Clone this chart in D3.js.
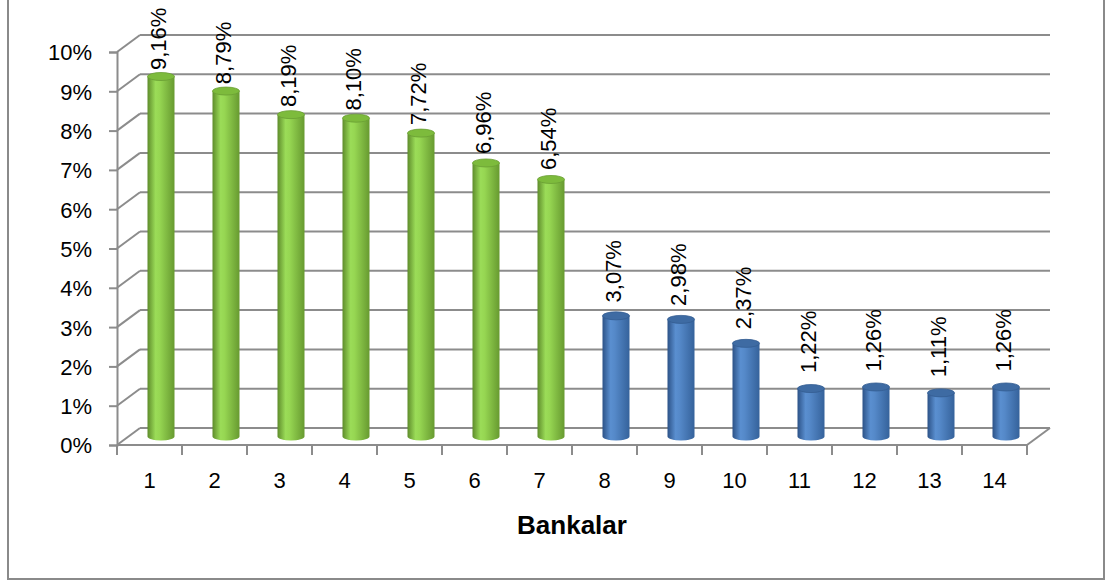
<!DOCTYPE html>
<html>
<head>
<meta charset="utf-8">
<script src="https://cdn.jsdelivr.net/npm/d3@7"></script>
<style>
  html, body { margin: 0; padding: 0; background: #ffffff; }
  svg { display: block; font-family: "Liberation Sans", Arial, sans-serif; }
</style>
</head>
<body>
<svg id="chart" width="1105" height="584"></svg>
<script>
// Bank shares (%) — banks 1..14
const banks = ["1","2","3","4","5","6","7","8","9","10","11","12","13","14"];
const shares = [9.16, 8.79, 8.19, 8.10, 7.72, 6.96, 6.54, 3.07, 2.98, 2.37, 1.22, 1.26, 1.11, 1.26];
const shareLabels = ["9,16%","8,79%","8,19%","8,10%","7,72%","6,96%","6,54%","3,07%","2,98%","2,37%","1,22%","1,26%","1,11%","1,26%"];
const groups = ["big","big","big","big","big","big","big","small","small","small","small","small","small","small"];
const yTicks = [0,1,2,3,4,5,6,7,8,9,10];
const yTickLabels = ["0%","1%","2%","3%","4%","5%","6%","7%","8%","9%","10%"];
const axisTitle = "Bankalar";

const svg = d3.select("#chart");

// frame
svg.append("rect")
  .attr("x", 8).attr("y", -4).attr("width", 1096).attr("height", 583)
  .attr("fill", "none").attr("stroke", "#8a8a8a").attr("stroke-width", 2);

// 3D box geometry: front plane and depth offset
const front = { left: 117, right: 1027, bottom: 445, top: 52 };
const depth = { dx: 23, dy: -17 };

const x = d3.scaleBand().domain(banks).range([front.left, front.right]).paddingInner(0).paddingOuter(0);
const y = d3.scaleLinear().domain([0, 10]).range([front.bottom, front.top]);
const yLabel = d3.scaleLinear().domain([0, 10]).range([419.6, 38]);

const gridColor = "#8c8c8c";
const g = svg.append("g");

// back wall gridlines
g.selectAll("line.grid").data(yTicks).join("line")
  .attr("class", "grid")
  .attr("x1", front.left + depth.dx).attr("x2", front.right + depth.dx)
  .attr("y1", d => y(d) + depth.dy).attr("y2", d => y(d) + depth.dy)
  .attr("stroke", gridColor).attr("stroke-width", 2);

// side wall diagonals
g.selectAll("line.diag").data(yTicks).join("line")
  .attr("class", "diag")
  .attr("x1", front.left).attr("x2", front.left + depth.dx)
  .attr("y1", d => y(d)).attr("y2", d => y(d) + depth.dy)
  .attr("stroke", gridColor).attr("stroke-width", 2);

// floor right diagonal
g.append("line")
  .attr("x1", front.right).attr("y1", y(0))
  .attr("x2", front.right + depth.dx).attr("y2", y(0) + depth.dy)
  .attr("stroke", gridColor).attr("stroke-width", 2);

// value axis (front)
const yAxis = d3.axisLeft(y).tickValues(yTicks).tickSize(8).tickFormat((d, i) => yTickLabels[i]);
const ya = svg.append("g").attr("transform", `translate(${front.left},0)`).call(yAxis);
ya.select(".domain").attr("stroke", gridColor).attr("stroke-width", 2);
ya.selectAll(".tick line").attr("stroke", gridColor).attr("stroke-width", 2);
ya.selectAll(".tick text")
  .attr("x", -25).attr("dy", "0.36em")
  .attr("font-size", 22).attr("fill", "#000")
  .attr("font-family", "'Liberation Sans', Arial, sans-serif");

// category axis (front floor edge)
const xa = svg.append("g").attr("transform", `translate(0,${front.bottom})`);
xa.append("line")
  .attr("x1", front.left).attr("x2", front.right).attr("y1", 0).attr("y2", 0)
  .attr("stroke", gridColor).attr("stroke-width", 2);
const boundaries = banks.map(b => x(b)).concat([front.right]);
xa.selectAll("line.tk").data(boundaries).join("line")
  .attr("class", "tk")
  .attr("x1", d => d).attr("x2", d => d).attr("y1", 0).attr("y2", 10)
  .attr("stroke", gridColor).attr("stroke-width", 2);
xa.selectAll("text").data(banks).join("text")
  .attr("x", d => x(d) + x.bandwidth() / 2)
  .attr("y", 43)
  .attr("text-anchor", "middle")
  .attr("font-size", 22).attr("fill", "#000")
  .text(d => d);

// axis title
svg.append("text")
  .attr("x", 572).attr("y", 534)
  .attr("text-anchor", "middle")
  .attr("font-size", 26).attr("font-weight", "bold").attr("fill", "#000")
  .text(axisTitle);

// cylinder gradients
const defs = svg.append("defs");
const palettes = {
  big: { stops: [["0%", "#5e8c2b"], ["30%", "#9bdc58"], ["45%", "#96d652"], ["100%", "#679a30"]], top: "#7dbb3c", rim: "#6a9e33" },
  small: { stops: [["0%", "#2c5287"], ["30%", "#5a8fd0"], ["45%", "#5589c9"], ["100%", "#35629b"]], top: "#3e6ba3", rim: "#335d92" }
};
Object.entries(palettes).forEach(([k, p]) => {
  const lg = defs.append("linearGradient").attr("id", "cyl-" + k).attr("x1", 0).attr("x2", 1).attr("y1", 0).attr("y2", 0);
  p.stops.forEach(s => lg.append("stop").attr("offset", s[0]).attr("stop-color", s[1]));
});

// bars as cylinders placed at mid-depth
const barW = 27, ry = 4;
const mid = { dx: depth.dx / 2, dy: depth.dy / 2 };
const bars = svg.append("g").selectAll("g.bar")
  .data(banks.map((b, i) => ({ b, v: shares[i], label: shareLabels[i], grp: groups[i] })))
  .join("g").attr("class", "bar");

bars.append("path")
  .attr("d", d => {
    const cx = x(d.b) + x.bandwidth() / 2 + mid.dx;
    const l = cx - barW / 2, r = cx + barW / 2;
    const yb = y(0) + mid.dy, yt = y(d.v) + mid.dy;
    return `M${l},${yt} L${l},${yb} A${barW / 2},${ry} 0 0 0 ${r},${yb} L${r},${yt} Z`;
  })
  .attr("fill", d => `url(#cyl-${d.grp})`);

bars.append("ellipse")
  .attr("cx", d => x(d.b) + x.bandwidth() / 2 + mid.dx)
  .attr("cy", d => y(d.v) + mid.dy)
  .attr("rx", barW / 2).attr("ry", ry)
  .attr("fill", d => palettes[d.grp].top)
  .attr("stroke", d => palettes[d.grp].rim).attr("stroke-width", 0.8);

// value labels, rotated
bars.append("text")
  .attr("transform", d => {
    const lx = x(d.b) + x.bandwidth() / 2 + mid.dx - 3;
    return `translate(${lx},${yLabel(d.v)}) rotate(-90)`;
  })
  .attr("dy", "0.36em")
  .attr("text-anchor", "start")
  .attr("font-size", 22).attr("fill", "#000")
  .text(d => d.label);
</script>
</body>
</html>
